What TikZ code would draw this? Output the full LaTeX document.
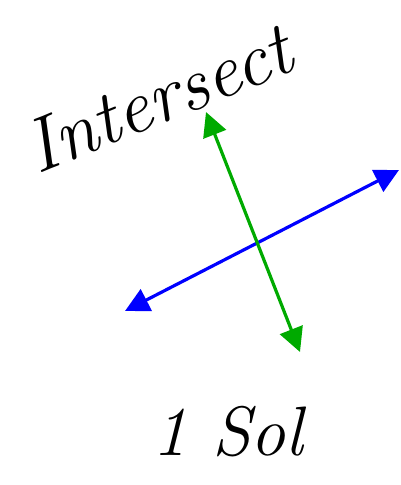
\documentclass[tikz,border=0pt]{standalone}
\usepackage{tikz}
\usepackage{xcolor}
\usetikzlibrary{arrows.meta}
\definecolor{LineBlue}{HTML}{0000FF}
\definecolor{LineGreen}{HTML}{00AA00}
\tikzset{
    % Handwritten label style
    inknode/.style={
        font=\fontsize{76}{76}\selectfont\itshape,
        text=black,
        inner sep=0pt
    },
    % Double headed line style
    lineboth/.style={
        {Triangle[length=24pt,width=24pt]}-{Triangle[length=24pt,width=24pt]},
        line width=3.2pt
    }
}
\begin{document}
\begin{tikzpicture}[x=1pt,y=-1pt]
        \useasboundingbox (0,0) rectangle (400,485);

        % Labels
        \node[inknode,rotate=22] (intersect) at (158,98) {Intersect};
        \node[inknode,font=\fontsize{70}{70}\selectfont\itshape] (onesol) at (228,432) {1 Sol};

        % Line end points
        \coordinate (blueL) at (125,311);
        \coordinate (blueR) at (399,170);
        \coordinate (greenT) at (206,112);
        \coordinate (greenB) at (300,352);

        % Lines
        \draw[lineboth,LineBlue] (blueL) -- (blueR);
        \draw[lineboth,LineGreen] (greenT) -- (greenB);
    \end{tikzpicture}
\end{document}
